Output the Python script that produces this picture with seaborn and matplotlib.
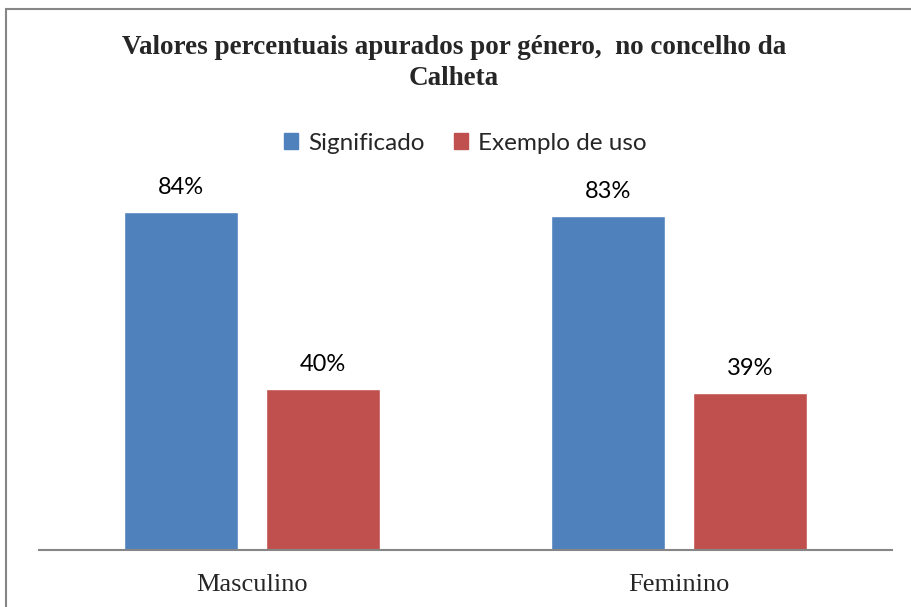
import matplotlib
matplotlib.use("Agg")
import matplotlib.pyplot as plt
import matplotlib.patches as mpatches
import seaborn as sns
import pandas as pd

# chart values
categories = ["Masculino", "Feminino"]
series = ["Significado", "Exemplo de uso"]
significado = [84, 83]
exemplo = [40, 39]
colors = ["#4F81BD", "#C0504D"]

df = pd.DataFrame({
    "Género": categories * 2,
    "Série": [series[0]] * 2 + [series[1]] * 2,
    "Valor": significado + exemplo,
})

sns.set_theme(style="white")
plt.rcParams["font.family"] = ["Liberation Serif", "DejaVu Serif"]

fig = plt.figure(figsize=(9.11, 6.07), dpi=100)
ax = fig.add_axes([39 / 911, 57 / 607, 853 / 911, 402 / 607])

sns.barplot(data=df, x="Género", y="Valor", hue="Série", order=categories,
            hue_order=series, palette=colors, width=0.666, gap=0.2,
            saturation=1, ax=ax, legend=False)

# data labels
for cont in ax.containers:
    ax.bar_label(cont, fmt="%d%%", padding=10, fontsize=17,
                 family=["Lato", "DejaVu Sans"], color="black")

ax.set_ylim(0, 100)
ax.set_xlim(-0.5, 1.5)
ax.set_xlabel("")
ax.set_ylabel("")
ax.set_yticks([])
ax.tick_params(axis="x", length=0, pad=17, labelsize=19)
for lbl in ax.get_xticklabels():
    lbl.set_family(["Liberation Serif", "DejaVu Serif"])
for s in ["top", "left", "right"]:
    ax.spines[s].set_visible(False)
ax.spines["bottom"].set_color("#868686")
ax.spines["bottom"].set_linewidth(1.5)

# legend
handles = [mpatches.Patch(color=c, label=s) for c, s in zip(colors, series)]
fig.legend(handles=handles, loc="center", bbox_to_anchor=(465 / 911, 1 - 143 / 607),
           ncol=2, frameon=False, handlelength=0.6, handleheight=0.6,
           handletextpad=0.4, columnspacing=1.2,
           prop={"family": ["Lato", "DejaVu Sans"], "size": 17.5})

# title
fig.text(454 / 911, 1 - 63 / 607,
         "Valores percentuais apurados por género,  no concelho da\nCalheta",
         ha="center", va="center", fontsize=19.5, fontweight="bold",
         family=["Liberation Serif", "DejaVu Serif"], linespacing=1.32)

# chart border
fig.patches.append(mpatches.Rectangle((6 / 911, -0.1), 1.2, 1 - 9 / 607 + 0.1,
                                      transform=fig.transFigure, fill=False,
                                      edgecolor="#868686", linewidth=1.5))

fig.savefig("out.png", dpi=100)
